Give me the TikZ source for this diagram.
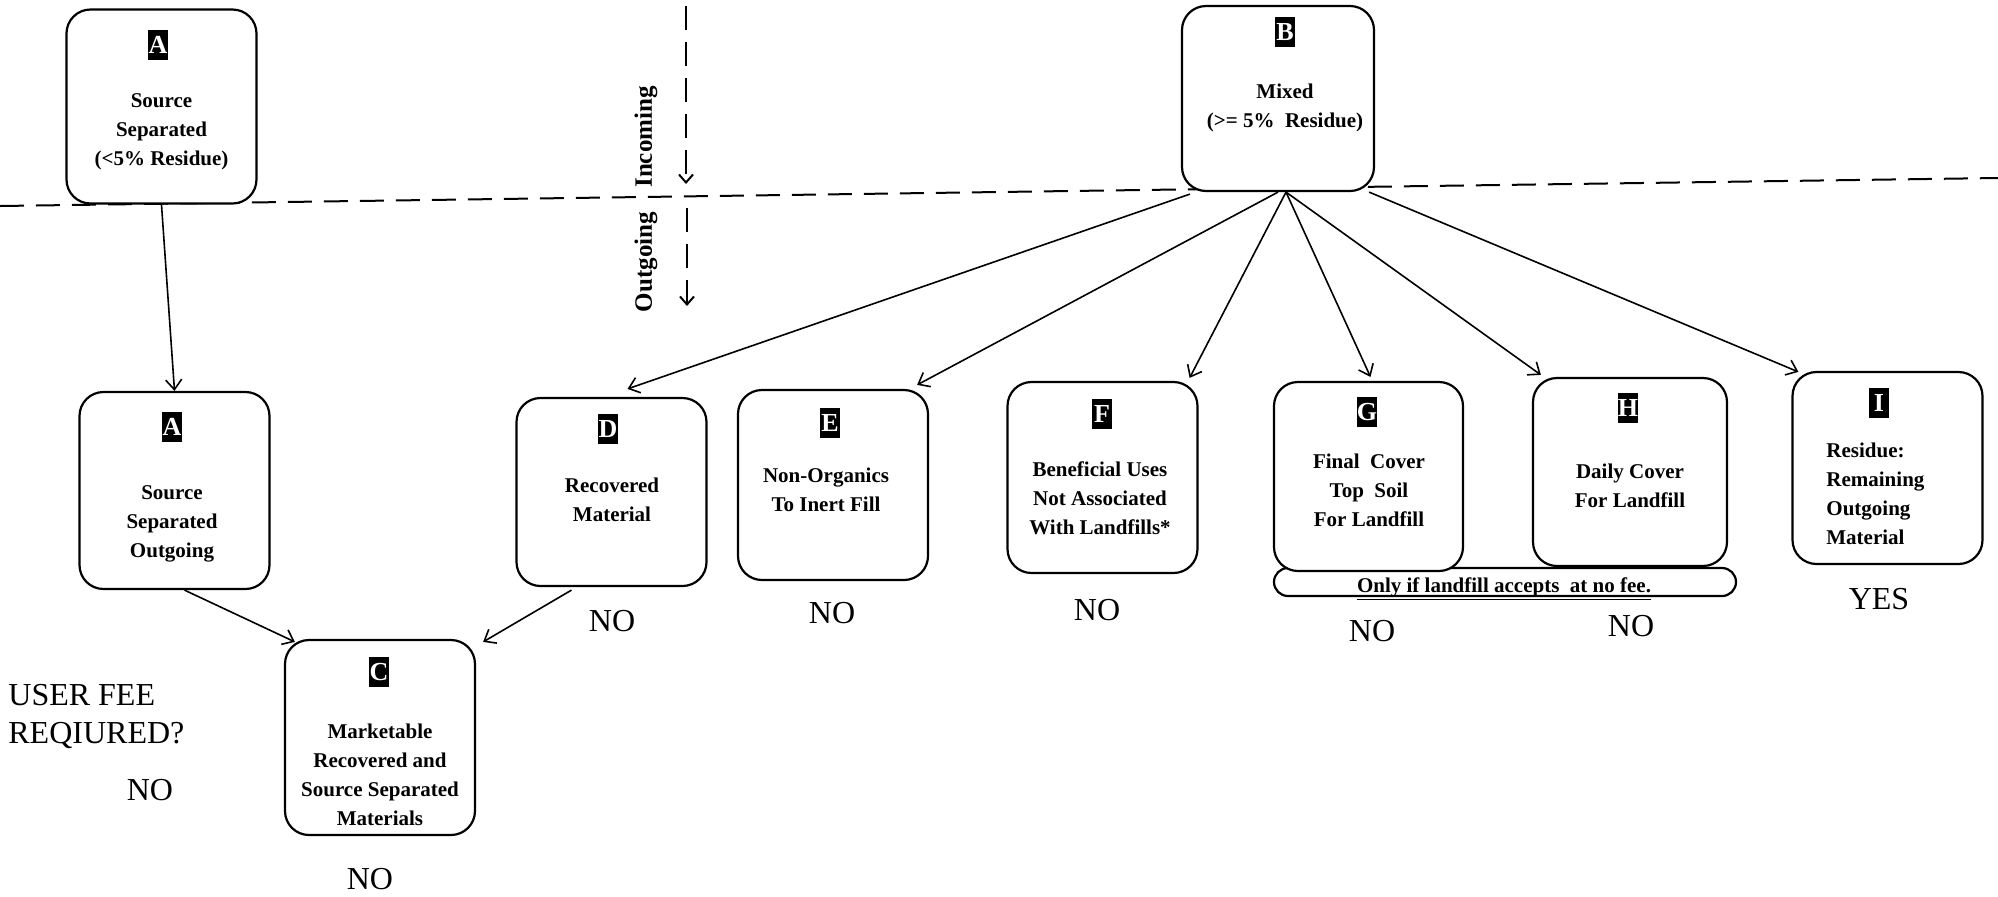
\documentclass[tikz,border=0pt]{standalone}
\usepackage{fontspec}
\setmainfont{Liberation Serif}
\usetikzlibrary{arrows.meta,calc}
\begin{document}
\begin{tikzpicture}[x=0.5pt,y=-0.5pt,
  box/.style={draw,line width=1.1pt,rounded corners=12pt,fill=white,minimum width=95pt,inner sep=0pt},
  lab/.style={fill=black,text=white,font=\bfseries\fontsize{13}{13}\selectfont,inner sep=0pt,minimum width=10pt,minimum height=15pt},
  btxt/.style={font=\bfseries\fontsize{10.5}{14.5}\selectfont,align=center,inner sep=0pt},
  ans/.style={font=\fontsize{16}{19}\selectfont,inner sep=0pt},
  arr/.style={line width=0.8pt,-{Straight Barb[length=5pt,width=8pt]}},
  dsh/.style={line width=1pt,dash pattern=on 12pt off 6pt}]
\useasboundingbox (0,0) rectangle (1998,896);
% dividing lines
\coordinate (hl) at (0,206);
\coordinate (hr) at (1998,178);
\draw[dsh] (hl) -- (hr);
\coordinate (v0) at (686,6);
\coordinate (v1) at (686,184);
\coordinate (v2) at (687,208);
\coordinate (v3) at (687,306);
\draw[dsh,-{Straight Barb[length=4pt,width=7pt]}] (v0) -- (v1);
\draw[dsh,-{Straight Barb[length=4pt,width=7pt]}] (v2) -- (v3);
\node[rotate=90,font=\bfseries\fontsize{12.5}{14}\selectfont,inner sep=0pt] (inc) at (646,137) {Incoming};
\node[rotate=90,font=\bfseries\fontsize{12.5}{14}\selectfont,inner sep=0pt] (outg) at (646,262) {Outgoing};
% boxes
\node[box,minimum height=97pt] (A1) at (161.5,106.5) {};
\node[lab] (lA1) at (158,45) {A};
\node[btxt] (tA1) at (161.5,132) {Source\\Separated\\(<5\% Residue)};
\node[box,minimum width=96pt,minimum height=92.5pt] (B) at (1278,98.5) {};
\node[lab] (lB) at (1285,32) {B};
\node[btxt] (tB) at (1285,108) {Mixed\\(>= 5\%\ \ Residue)};
\node[box,minimum height=98.5pt] (A2) at (174.5,490.5) {};
\node[lab] (lA2) at (172,427) {A};
\node[btxt] (tA2) at (172,524) {Source\\Separated\\Outgoing};
\node[box,minimum height=94pt] (D) at (611.5,492) {};
\node[lab] (lD) at (608,429) {D};
\node[btxt] (tD) at (612,500) {Recovered\\Material};
\node[box,minimum height=95pt] (E) at (833,485) {};
\node[lab] (lE) at (830,423) {E};
\node[btxt] (tE) at (826,490) {Non-Organics\\To Inert Fill};
\node[box,minimum height=95.5pt] (F) at (1102.5,477.5) {};
\node[lab] (lF) at (1102,414) {F};
\node[btxt] (tF) at (1100,498) {Beneficial Uses\\Not Associated\\With Landfills*};
\node[draw,line width=1.1pt,rounded corners=7pt,minimum width=231pt,minimum height=14pt,inner sep=0pt] (cap) at (1505,582) {};
\node[box,minimum width=94.5pt,minimum height=94.5pt] (G) at (1368.5,476.5) {};
\node[lab] (lG) at (1367,412) {G};
\node[btxt] (tG) at (1369,490) {Final\ \ Cover\\Top\ \ Soil\\For Landfill};
\node[box,minimum width=97pt,minimum height=94pt] (H) at (1630,472) {};
\node[lab] (lH) at (1628,408) {H};
\node[btxt] (tH) at (1630,486) {Daily Cover\\For Landfill};
\node[box,minimum height=96pt] (I) at (1887.5,468) {};
\node[lab] (lI) at (1879,403) {I};
\node[btxt,align=left,anchor=west] (tI) at (1826,494) {Residue:\\Remaining\\Outgoing\\Material};
\node[box,minimum height=97.5pt] (C) at (380,737.5) {};
\node[lab] (lC) at (379,672) {C};
\node[btxt] (tC) at (380,775) {Marketable\\Recovered and\\Source Separated\\Materials};
\node[font=\bfseries\fontsize{10.5}{12}\selectfont,inner sep=0pt] (tcap) at (1504,589) {\underline{Only if landfill accepts\ \ at no fee.}};
% connectors
\draw[arr] (A1.south) -- (A2.north);
\draw[arr] ($(B.south west)+(9,2)$) -- ($(D.north)+(16,-8)$);
\draw[arr] (B.south) -- ($(E.north east)+(-12,-4)$);
\draw[arr] ($(B.south)+(8,0)$) -- ($(F.north east)+(-9,-3)$);
\draw[arr] ($(B.south)+(8,0)$) -- ($(G.north)+(2,-4)$);
\draw[arr] ($(B.south)+(8,0)$) -- ($(H.north west)+(9,-2)$);
\draw[arr] ($(B.south east)+(-6,0)$) -- ($(I.north west)+(7,1)$);
\draw[arr] ($(A2.south)+(10,0)$) -- ($(C.north west)+(11,3)$);
\draw[arr] ($(D.south)+(-40,3)$) -- ($(C.north east)+(7,3)$);
% answers
\node[ans] (nD) at (612,621) {NO};
\node[ans] (nE) at (832,613) {NO};
\node[ans] (nF) at (1097,610) {NO};
\node[ans] (nG) at (1372,631) {NO};
\node[ans] (nH) at (1631,626) {NO};
\node[ans] (nI) at (1879,599) {YES};
\node[ans] (nC) at (370,879) {NO};
\node[ans,align=left,anchor=west] (q) at (8,716) {USER FEE\\REQIURED?};
\node[ans] (nq) at (150,790) {NO};
\end{tikzpicture}
\end{document}
